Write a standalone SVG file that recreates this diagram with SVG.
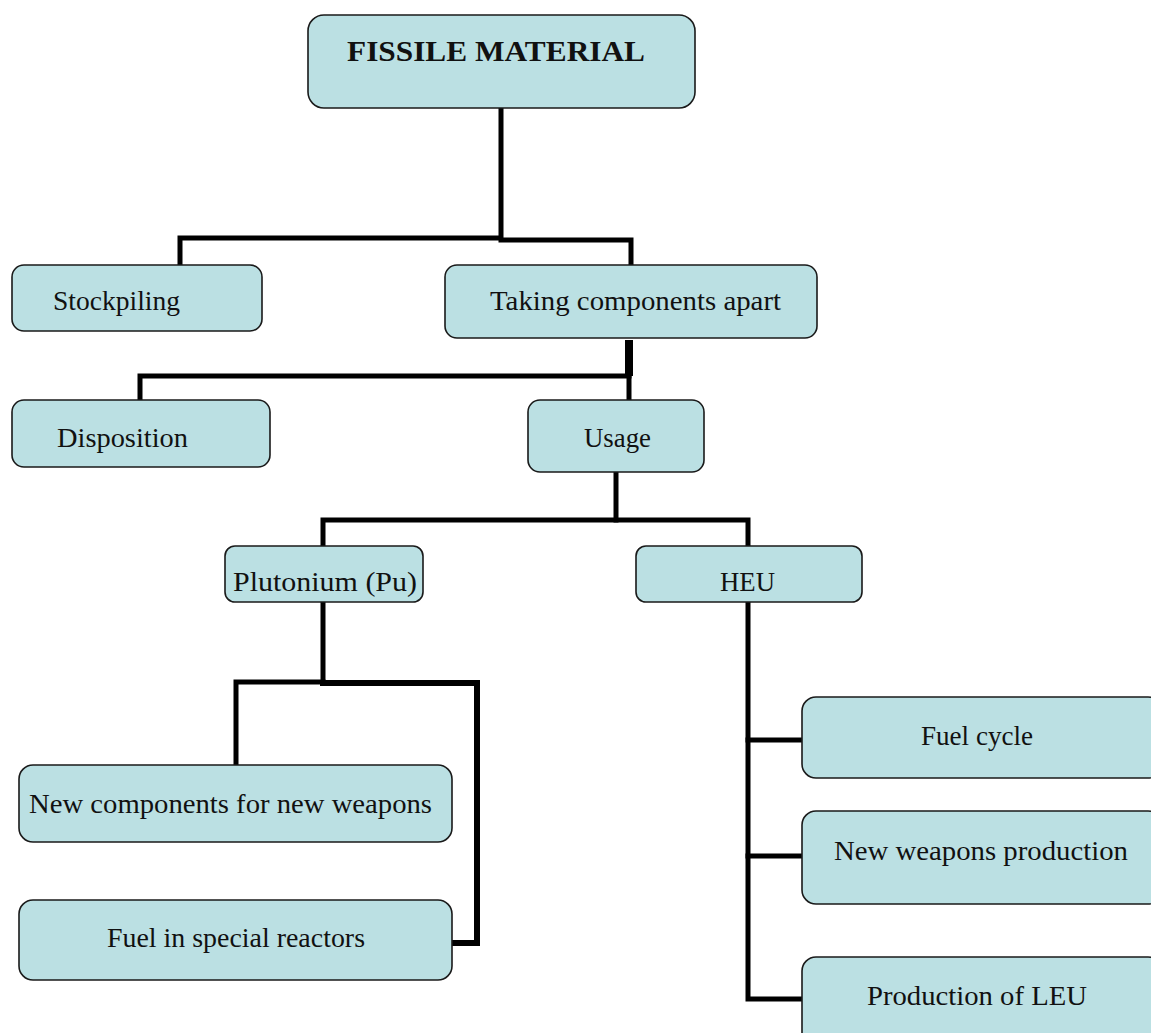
<svg xmlns="http://www.w3.org/2000/svg" width="1151" height="1033" viewBox="0 0 1151 1033">
<style>
.box{fill:#bbe0e3;stroke:#1a1a1a;stroke-width:1.6}
.t{font-family:"Liberation Serif","Times New Roman",serif;font-size:27px;fill:#111}
.b{font-weight:bold;font-size:30px}
.c{fill:none;stroke:#000;stroke-width:5;stroke-linejoin:miter;stroke-linecap:square}
</style>
<rect width="1151" height="1033" fill="#fff"/>
<g id="connectors">
<path class="c" d="M501,110 V240 H631 V263"/>
<path class="c" d="M497,238 H180 V263"/>
<path class="c" d="M629,340 V376" style="stroke-width:8;stroke-linecap:butt"/>
<path class="c" d="M629,376 H140 V398"/>
<path class="c" d="M629,376 V398"/>
<path class="c" d="M616,474 V520"/>
<path class="c" d="M323,544 V520 H748 V544"/>
<path class="c" d="M323,604 V682"/>
<path class="c" d="M236,763 V682 H323"/>
<path class="c" d="M323,683 H477 V943 H454" style="stroke-width:6"/>
<path class="c" d="M748,604 V999 H800"/>
<path class="c" d="M748,740 H800"/>
<path class="c" d="M748,856 H800"/>
</g>
<g id="n-fissile"><rect class="box" x="308" y="15" width="387" height="93" rx="16"/><text class="t b" x="347" y="61" textLength="298" lengthAdjust="spacingAndGlyphs">FISSILE MATERIAL</text></g>
<g id="n-stockpiling"><rect class="box" x="12" y="265" width="250" height="66" rx="12"/><text class="t" x="53" y="310" textLength="127" lengthAdjust="spacingAndGlyphs">Stockpiling</text></g>
<g id="n-taking"><rect class="box" x="445" y="265" width="372" height="73" rx="12"/><text class="t" x="490" y="310" textLength="291" lengthAdjust="spacingAndGlyphs">Taking components apart</text></g>
<g id="n-disposition"><rect class="box" x="12" y="400" width="258" height="67" rx="12"/><text class="t" x="57" y="447" textLength="131" lengthAdjust="spacingAndGlyphs">Disposition</text></g>
<g id="n-usage"><rect class="box" x="528" y="400" width="176" height="72" rx="12"/><text class="t" x="584" y="447" textLength="67" lengthAdjust="spacingAndGlyphs">Usage</text></g>
<g id="n-pu"><rect class="box" x="225" y="546" width="198" height="56" rx="10"/><text class="t" x="233" y="591" textLength="184" lengthAdjust="spacingAndGlyphs">Plutonium (Pu)</text></g>
<g id="n-heu"><rect class="box" x="636" y="546" width="226" height="56" rx="10"/><text class="t" x="720" y="591" textLength="55" lengthAdjust="spacingAndGlyphs">HEU</text></g>
<g id="n-newcomp"><rect class="box" x="19" y="765" width="433" height="77" rx="14"/><text class="t" x="29" y="813" textLength="403" lengthAdjust="spacingAndGlyphs">New components for new weapons</text></g>
<g id="n-fuelspecial"><rect class="box" x="19" y="900" width="433" height="80" rx="14"/><text class="t" x="107" y="947" textLength="258" lengthAdjust="spacingAndGlyphs">Fuel in special reactors</text></g>
<g id="n-fuelcycle"><rect class="box" x="802" y="697" width="360" height="81" rx="14"/><text class="t" x="921" y="745" textLength="112" lengthAdjust="spacingAndGlyphs">Fuel cycle</text></g>
<g id="n-newweapons"><rect class="box" x="802" y="811" width="360" height="93" rx="14"/><text class="t" x="834" y="860" textLength="294" lengthAdjust="spacingAndGlyphs">New weapons production</text></g>
<g id="n-leu"><rect class="box" x="802" y="957" width="360" height="90" rx="14"/><text class="t" x="867" y="1005" textLength="220" lengthAdjust="spacingAndGlyphs">Production of LEU</text></g>
</svg>
